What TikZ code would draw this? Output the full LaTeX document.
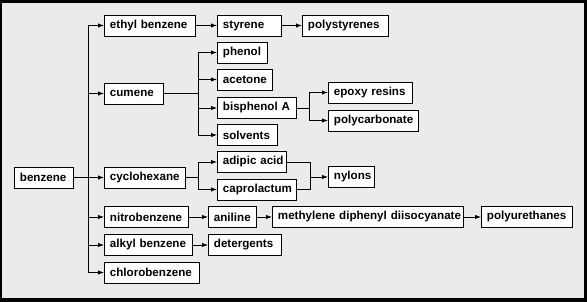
\documentclass[tikz,border=0pt]{standalone}
\usepackage{fontspec}
\setmainfont{Liberation Sans}
\usetikzlibrary{arrows.meta,positioning}
\definecolor{paper}{RGB}{235,235,235}
\newcommand\nohyph{\hyphenpenalty=10000\relax}
\tikzset{
  box/.style={draw=black,fill=white,line width=0.9pt,anchor=west,
    inner xsep=5.5pt,inner ysep=0pt,minimum height=21pt,
    text width=#1,align=left,
    font=\fontsize{11.6}{13}\selectfont\bfseries\nohyph},
  link/.style={draw=black,line width=0.9pt},
  arr/.style={link,-{Latex[length=6pt,width=4.4pt]}},
}
\begin{document}
\begin{tikzpicture}[x=1pt,y=-1pt]
  % frame
  \fill[black] (0,0) rectangle (587,302);
  \fill[paper] (2,3) rectangle (584,298);
  \useasboundingbox (0,0) rectangle (587,302);

  % source
  \node[box=48pt] (benzene) at (14,177.5) {benzene};

  % first column
  \node[box=80pt] (ethyl) at (104,25.5) {ethyl~benzene};
  \node[box=48pt] (cumene) at (104,93.5) {cumene};
  \node[box=70pt] (cyclohex) at (104,177.5) {cyclohexane};
  \node[box=73pt] (nitro) at (104,217) {nitrobenzene};
  \node[box=77pt] (alkyl) at (104,245) {alkyl~benzene};
  \node[box=84pt] (chloro) at (104,272.5) {chlorobenzene};

  % second column
  \node[box=53pt] (styrene) at (217,25.5) {styrene};
  \node[box=39pt] (phenol) at (217,52.5) {phenol};
  \node[box=44pt] (acetone) at (217,79.5) {acetone};
  \node[box=68pt] (bisphenol) at (217,108) {bisphenol~A};
  \node[box=49pt] (solvents) at (217,135) {solvents};
  \node[box=58pt] (adipic) at (217,162) {adipic~acid};
  \node[box=68pt] (caprolactum) at (217,189.5) {caprolactum};
  \node[box=37pt] (aniline) at (208,217) {aniline};
  \node[box=62pt] (detergents) at (208,245) {detergents};

  % third column
  \node[box=75pt] (polystyrenes) at (302,25.5) {polystyrenes};
  \node[box=73pt] (epoxy) at (328,92.5) {epoxy~resins};
  \node[box=79pt] (polycarb) at (328,120.5) {polycarbonate};
  \node[box=35pt] (nylons) at (328,177) {nylons};
  \node[box=180pt] (mdi) at (272,217) {methylene~diphenyl~diisocyanate};
  \node[box=80pt] (polyureth) at (481,217) {polyurethanes};

  % junctions
  \coordinate (trunk) at (88,0);
  \coordinate (cfork) at (198,0);
  \coordinate (bfork) at (309,0);
  \coordinate (njoin) at (310,0);

  % benzene tree
  \draw[link] (trunk |- ethyl.west) -- (trunk |- chloro.west);
  \draw[link] (benzene.east) -- (trunk |- benzene.east);
  \foreach \n in {ethyl,cumene,cyclohex,nitro,alkyl,chloro}
    \draw[arr] (trunk |- \n.west) -- (\n.west);

  % cumene and cyclohexane forks
  \draw[link] (cumene.east) -- (cfork |- cumene.east);
  \draw[link] (cfork |- phenol.west) -- (cfork |- solvents.west);
  \foreach \n in {phenol,acetone,bisphenol,solvents}
    \draw[arr] (cfork |- \n.west) -- (\n.west);
  \draw[link] (cyclohex.east) -- (cfork |- cyclohex.east);
  \draw[link] (cfork |- adipic.west) -- (cfork |- caprolactum.west);
  \foreach \n in {adipic,caprolactum}
    \draw[arr] (cfork |- \n.west) -- (\n.west);

  % bisphenol fork
  \draw[link] (bisphenol.east) -- (bfork |- bisphenol.east);
  \draw[link] (bfork |- epoxy.west) -- (bfork |- polycarb.west);
  \foreach \n in {epoxy,polycarb}
    \draw[arr] (bfork |- \n.west) -- (\n.west);

  % nylons join
  \draw[link] (adipic.east) -- (njoin |- adipic.east) -- (njoin |- caprolactum.east) -- (caprolactum.east);
  \draw[arr] (njoin |- nylons.west) -- (nylons.west);

  % chains
  \draw[arr] (ethyl) -- (styrene);
  \draw[arr] (styrene) -- (polystyrenes);
  \draw[arr] (nitro) -- (aniline);
  \draw[arr] (aniline) -- (mdi);
  \draw[arr] (mdi) -- (polyureth);
  \draw[arr] (alkyl) -- (detergents);
\end{tikzpicture}
\end{document}
